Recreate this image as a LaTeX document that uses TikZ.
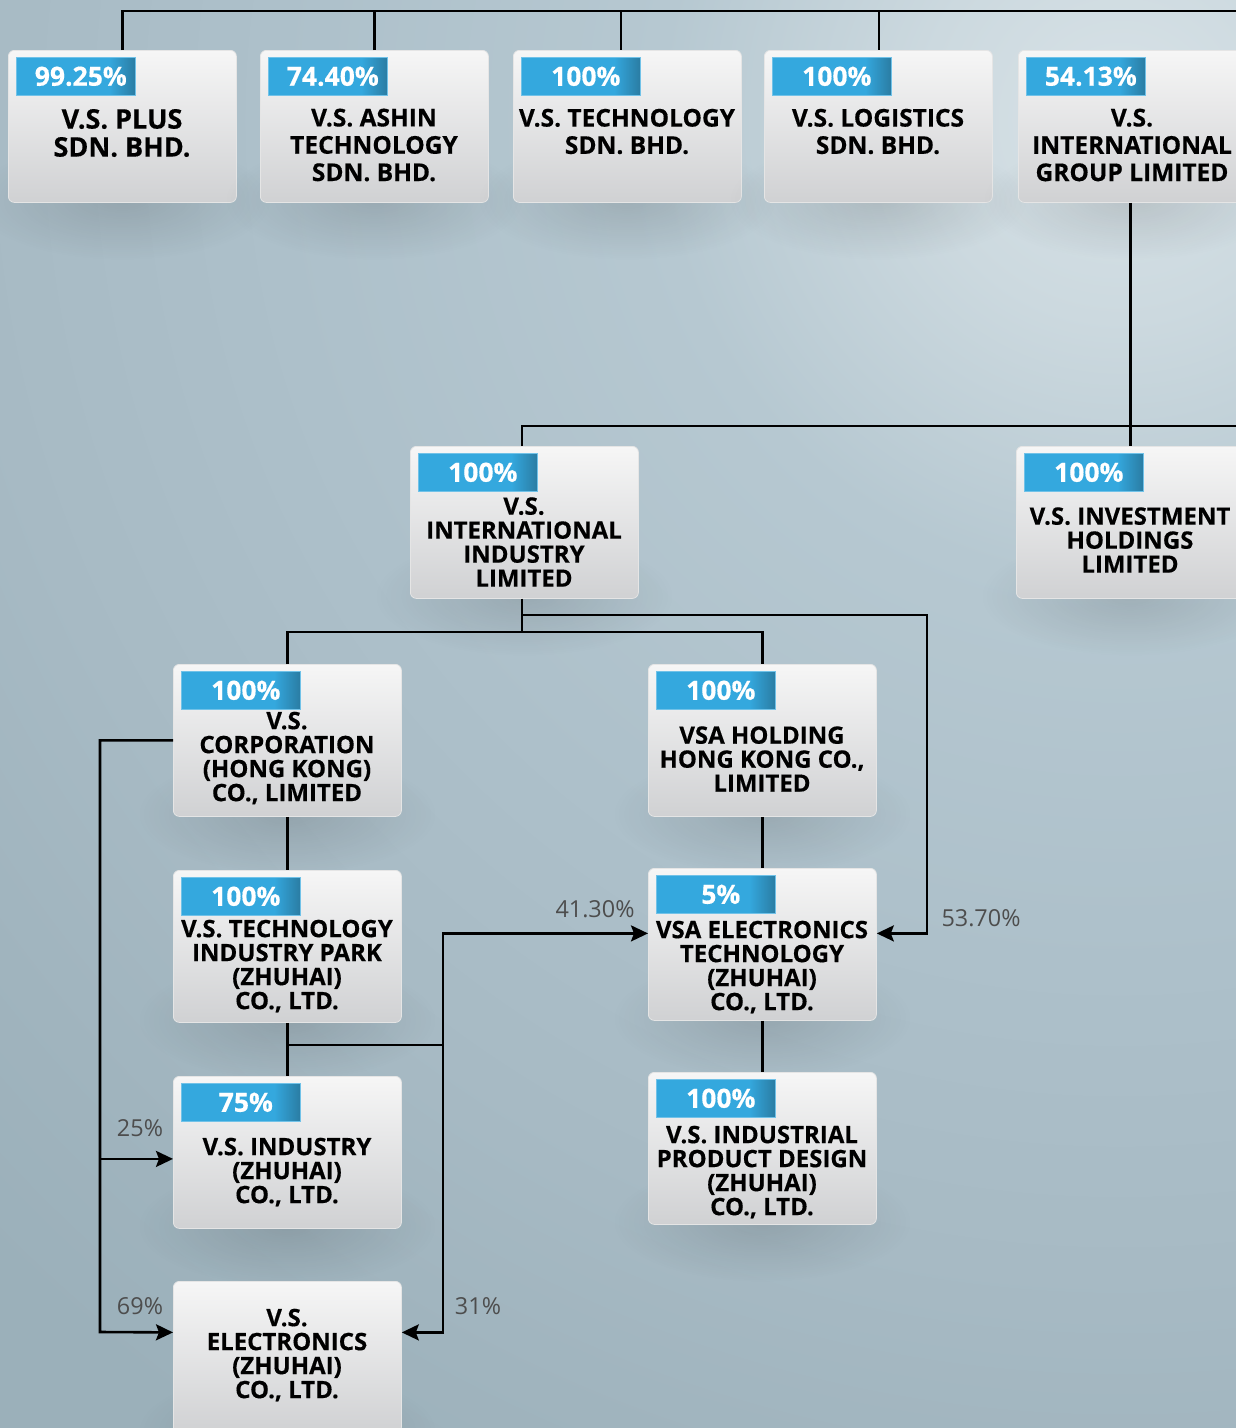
\documentclass[tikz,border=0pt]{standalone}
\usepackage{fontspec}
\setmainfont{Open Sans}[BoldFeatures={FakeBold=0.4}]
\usetikzlibrary{arrows.meta,fadings,calc}

\definecolor{bg0}{HTML}{D8E2E7}
\definecolor{bg1}{HTML}{CCD9DF}
\definecolor{bg2}{HTML}{B6C8D1}
\definecolor{bg3}{HTML}{ADC0CA}
\definecolor{bg4}{HTML}{A7BAC4}
\definecolor{bg5}{HTML}{A0B4BE}
\definecolor{bg6}{HTML}{9BB0BA}
\definecolor{badgec}{HTML}{34A8DE}
\definecolor{badgedk}{HTML}{2A7CA3}
\definecolor{boxtop}{HTML}{F6F6F6}
\definecolor{boxbot}{HTML}{D0D1D3}
\definecolor{lblc}{HTML}{4D4D4D}

\pgfdeclareradialshading{bgshade}{\pgfpointorigin}{color(0bp)=(bg0); color(1.56bp)=(bg1); color(3.6bp)=(bg2); color(6.64bp)=(bg3); color(9bp)=(bg4); color(10.9bp)=(bg5); color(12.5bp)=(bg6); color(50bp)=(bg6)}
\pgfdeclarehorizontalshading{badgeshade}{100bp}{color(0bp)=(badgec); color(25bp)=(badgec); color(64bp)=(badgec); color(75bp)=(badgedk); color(100bp)=(badgedk)}
\tikzfading[name=shadowfade, inner color=transparent!45, outer color=transparent!100]

\tikzset{
  orgbox/.style={rounded corners=6pt, minimum width=228pt, minimum height=152pt,
    top color=boxtop, bottom color=boxbot, draw=white!80!gray, line width=0.8pt,
    anchor=north west, inner sep=0pt},
  badgebox/.style={minimum width=119pt, minimum height=38pt, anchor=north west,
    shading=badgeshade, draw=badgec!70!white, line width=0.6pt, inner sep=0pt},
  badgetxt/.style={text=white, font=\fontsize{26.5}{28}\selectfont\bfseries, inner sep=0pt},
  orgtext/.style={align=center, font=\fontsize{24}{24}\selectfont\bfseries, text=black, inner sep=0pt},
  toptext/.style={font=\fontsize{24.5}{27.3}\selectfont\bfseries},
  bigtext/.style={font=\fontsize{27}{28}\selectfont\bfseries},
  conn/.style={line width=2.6pt, draw=black},
  arr/.style={conn, -{Stealth[length=17pt, width=16pt, inset=3pt]}},
  pct/.style={text=lblc, font=\fontsize{23.4}{24}\selectfont, inner sep=0pt},
}

% #1 text style, #2 name, #3 x (left), #4 y (top), #5 text centre y, #6 text
\newcommand\orgunit[6][]{%
  \fill[black, opacity=0.22, path fading=shadowfade] (#3+114,#4+150) ellipse (150 and 60);
  \node[orgbox] (#2) at (#3,#4) {};
  \node[orgtext,#1] (#2-t) at (#3+114,#5) {#6};
}
% #1 unit name, #2 badge text
\newcommand\orgbadge[2]{%
  \node[badgebox] (#1-b) at ($(#1.north west)+(8,7)$) {};
  \node[badgetxt] (#1-bt) at ($(#1-b.center)+(5,0)$) {#2};
}

\begin{document}
\begin{tikzpicture}[x=1pt, y=-1pt]
\useasboundingbox (0,0) rectangle (1236,1428);
\begin{scope}
  \clip (0,0) rectangle (1236,1428);
  \shade[shading=bgshade] (1120,120) circle (3200);
\end{scope}

% ---------- units ----------
\orgunit[bigtext]{b1}{8}{50}{133}{V.S. PLUS\\SDN. BHD.}
\orgbadge{b1}{99.25\%}
\orgunit[toptext]{b2}{260}{50}{145}{V.S. ASHIN\\TECHNOLOGY\\SDN. BHD.}
\orgbadge{b2}{74.40\%}
\orgunit[toptext]{b3}{513}{50}{131.5}{V.S. TECHNOLOGY\\SDN. BHD.}
\orgbadge{b3}{100\%}
\orgunit[toptext]{b4}{764}{50}{131.5}{V.S. LOGISTICS\\SDN. BHD.}
\orgbadge{b4}{100\%}
\orgunit[toptext]{b5}{1018}{50}{145}{V.S.\\INTERNATIONAL\\GROUP LIMITED}
\orgbadge{b5}{54.13\%}

\orgunit{ii}{410}{446}{542}{V.S.\\INTERNATIONAL\\INDUSTRY\\LIMITED}
\orgbadge{ii}{100\%}
\orgunit{ih}{1016}{446}{540}{V.S. INVESTMENT\\HOLDINGS\\LIMITED}
\orgbadge{ih}{100\%}

\orgunit{corp}{173}{664}{758}{V.S.\\CORPORATION\\(HONG KONG)\\CO., LIMITED}
\orgbadge{corp}{100\%}
\orgunit{ah}{648}{664}{759}{VSA HOLDING\\HONG KONG CO.,\\LIMITED}
\orgbadge{ah}{100\%}

\orgunit{tip}{173}{870}{966}{V.S. TECHNOLOGY\\INDUSTRY PARK\\(ZHUHAI)\\CO., LTD.}
\orgbadge{tip}{100\%}
\orgunit{ae}{648}{868}{967}{VSA ELECTRONICS\\TECHNOLOGY\\(ZHUHAI)\\CO., LTD.}
\orgbadge{ae}{5\%}

\orgunit{ind}{173}{1076}{1172}{V.S. INDUSTRY\\(ZHUHAI)\\CO., LTD.}
\orgbadge{ind}{75\%}
\orgunit{pd}{648}{1072}{1172}{V.S. INDUSTRIAL\\PRODUCT DESIGN\\(ZHUHAI)\\CO., LTD.}
\orgbadge{pd}{100\%}

\orgunit{el}{173}{1281}{1355}{V.S.\\ELECTRONICS\\(ZHUHAI)\\CO., LTD.}

% ---------- coordinates ----------
\coordinate (topR) at (1236,11);
\coordinate (b3up) at (621,11);
\coordinate (b4up) at (879,11);
\coordinate (midR) at (1236,426);
\coordinate (split) at (522,632);
\coordinate (r53) at (927,615);
\coordinate (j1) at (287,1045);
\coordinate (v443) at (443,1045);
\coordinate (lx) at (100,1332);
\coordinate (ae-inR) at ($(ae.east)+(0,-11)$);
\coordinate (ae-inL) at ($(ae.west)+(0,-11)$);
\coordinate (ind-in) at ($(ind.west)+(0,6.5)$);
\coordinate (el-inL) at ($(el.west)+(0,-25)$);
\coordinate (el-inR) at ($(el.east)+(0,-25)$);

% ---------- connectors ----------
\draw[conn] (b1.north) |- (topR);
\draw[conn] (b2.north) -- (b2.north |- topR);
\draw[conn] (b3up) -- (b3up |- b3.north);
\draw[conn] (b4up) -- (b4up |- b4.north);
\draw[conn] (ih.north |- b5.south) -- (ih.north);
\draw[conn] (ii.north -| split) |- (midR);
\draw[conn] (ii.south -| split) -- (split);
\draw[conn] (corp.north) |- (split) -| (ah.north);
\draw[arr] (ii.south -| split) |- (r53) |- (ae-inR);
\draw[conn] (ah.south) -- (ae.north);
\draw[conn] (ae.south) -- (pd.north);
\draw[conn] (corp.south) -- (tip.north);
\draw[conn] (tip.south) -- (ind.north);
\draw[conn] (j1) -- (v443);
\draw[arr] (v443) |- (ae-inL);
\draw[arr] (v443) |- (el-inR);
\draw[arr] (corp.west) -| (lx) -- (el-inL);
\draw[arr] (lx |- ind-in) -- (ind-in);

% ---------- percentage labels ----------
\node[pct] (p4130) at (595,909) {41.30\%};
\node[pct] (p5370) at (981,918) {53.70\%};
\node[pct] (p25) at (140,1128) {25\%};
\node[pct] (p69) at (140,1306) {69\%};
\node[pct] (p31) at (478,1306) {31\%};
\end{tikzpicture}
\end{document}
